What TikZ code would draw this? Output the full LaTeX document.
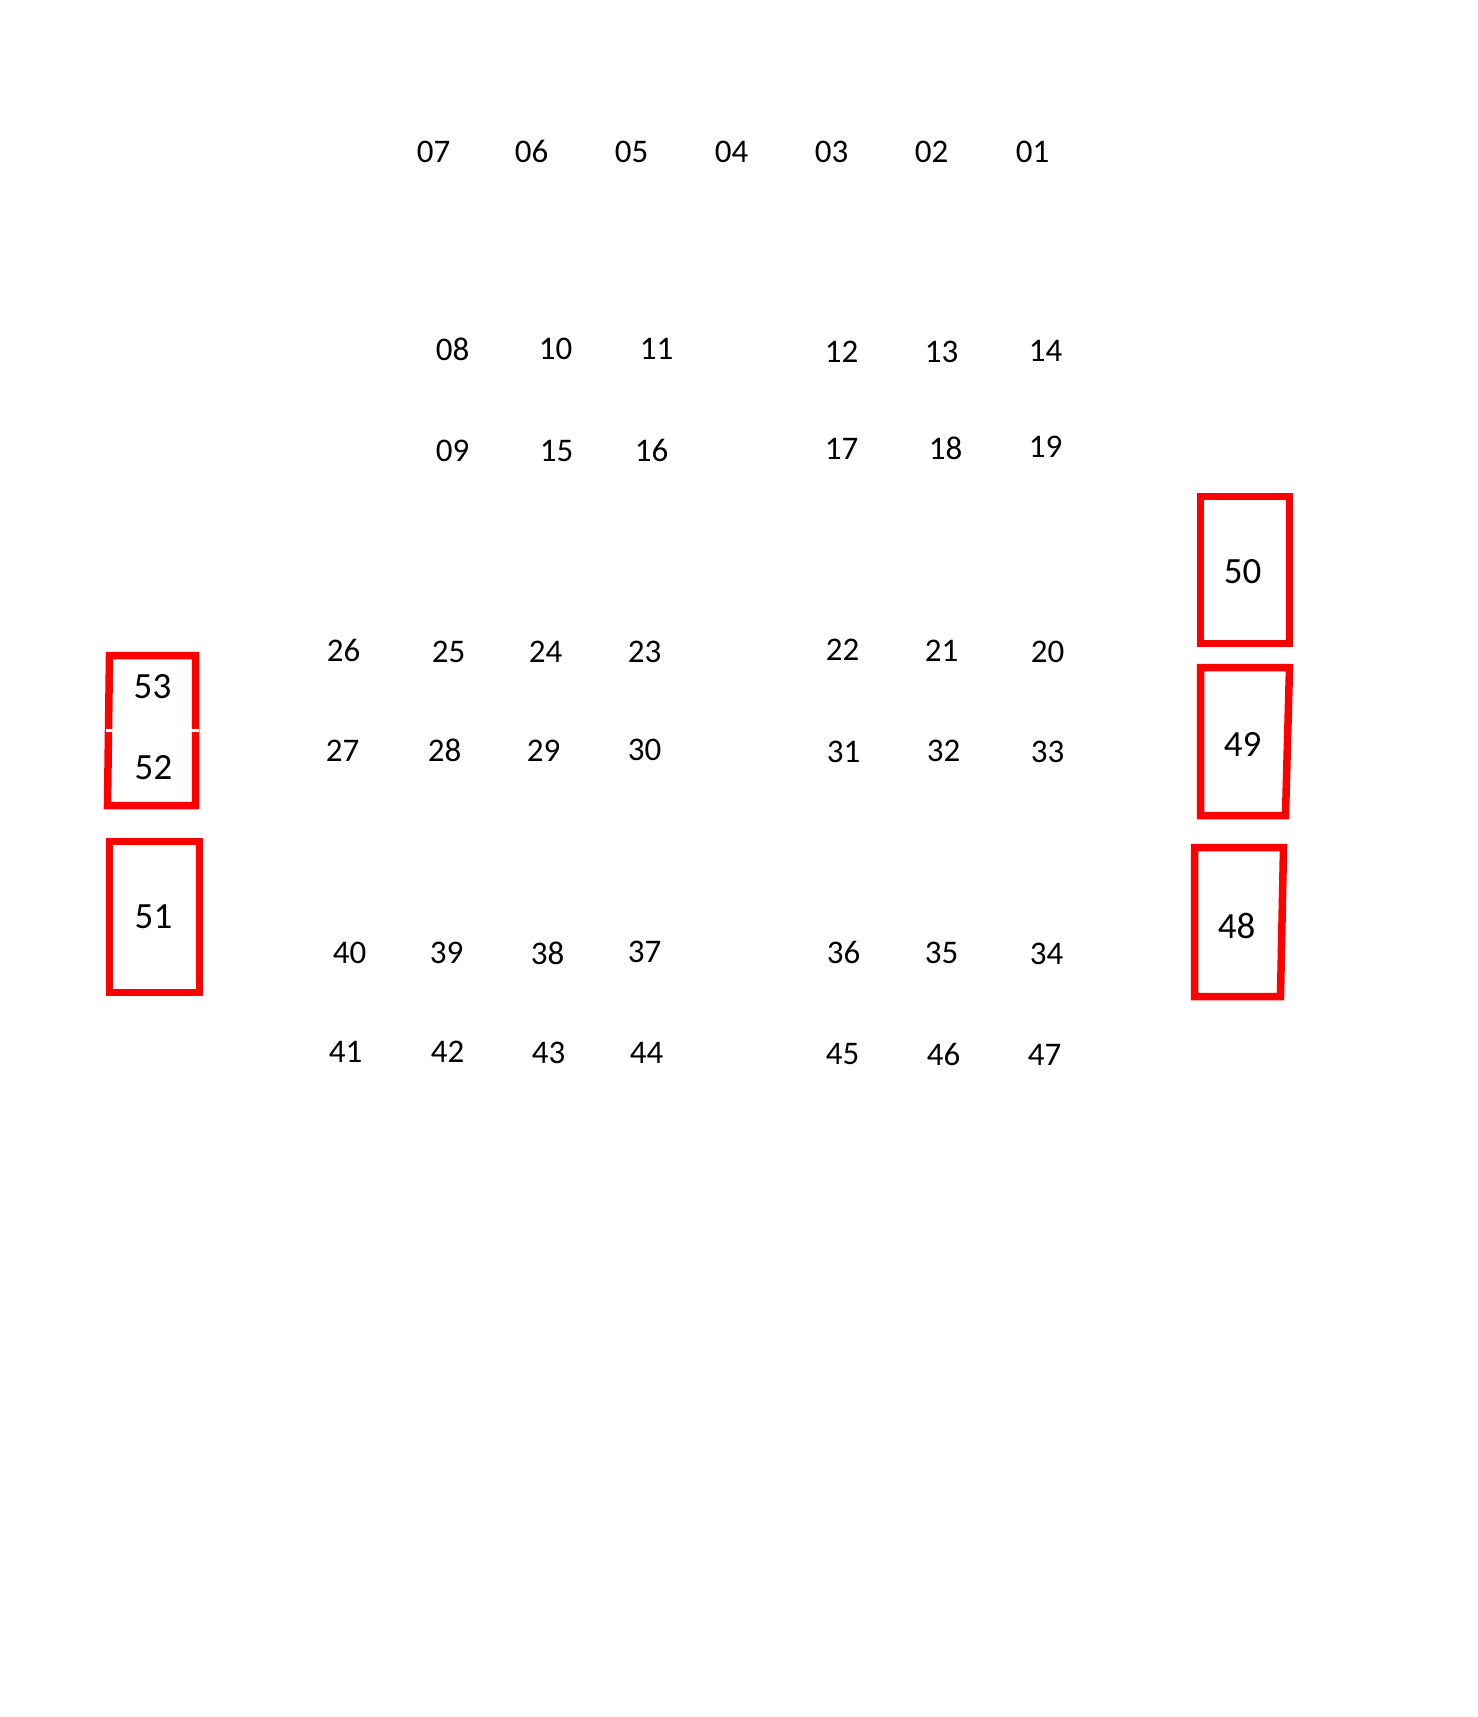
\documentclass[tikz,border=0pt]{standalone}
\usepackage{fontspec}
\setmainfont{Carlito}
\begin{document}
\begin{tikzpicture}[x=1pt,y=-1pt,
  num/.style={inner sep=0pt,font=\fontsize{33}{40}\selectfont},
  boxnum/.style={inner sep=0pt,font=\fontsize{37}{44}\selectfont},
  redbox/.style={draw=red,line width=7.5pt}]
\useasboundingbox[fill=white] (0,0) rectangle (1478,1717);
\begin{scope}[shift={(1.5,1.5)}]
% row 1
\node[num] (n07) at (432,150) {07};
\node[num] (n06) at (530,150) {06};
\node[num] (n05) at (630,150) {05};
\node[num] (n04) at (730,150) {04};
\node[num] (n03) at (830,150) {03};
\node[num] (n02) at (930,150) {02};
\node[num] (n01) at (1031,150) {01};
% row 2
\node[num] (n08) at (451,348) {08};
\node[num] (n10) at (554,347) {10};
\node[num] (n11) at (655,347) {11};
\node[num] (n12) at (840,350) {12};
\node[num] (n13) at (940,350) {13};
\node[num] (n14) at (1044,349) {14};
% row 3
\node[num] (n09) at (451,449) {09};
\node[num] (n15) at (555,449) {15};
\node[num] (n16) at (650,449) {16};
\node[num] (n17) at (840,447) {17};
\node[num] (n18) at (944,447) {18};
\node[num] (n19) at (1044,445) {19};
% row 4
\node[num] (n26) at (342,649) {26};
\node[num] (n25) at (447,650) {25};
\node[num] (n24) at (544,650) {24};
\node[num] (n23) at (643,650) {23};
\node[num] (n22) at (841,648) {22};
\node[num] (n21) at (940,649) {21};
\node[num] (n20) at (1046,650) {20};
% row 5
\node[num] (n27) at (341,749) {27};
\node[num] (n28) at (443,749) {28};
\node[num] (n29) at (542,749) {29};
\node[num] (n30) at (643,748) {30};
\node[num] (n31) at (842,750) {31};
\node[num] (n32) at (942,749) {32};
\node[num] (n33) at (1046,750) {33};
% row 6
\node[num] (n40) at (348,951) {40};
\node[num] (n39) at (445,951) {39};
\node[num] (n38) at (546,952) {38};
\node[num] (n37) at (643,950) {37};
\node[num] (n36) at (842,951) {36};
\node[num] (n35) at (940,951) {35};
\node[num] (n34) at (1045,952) {34};
% row 7
\node[num] (n41) at (344,1050) {41};
\node[num] (n42) at (446,1050) {42};
\node[num] (n43) at (547,1051) {43};
\node[num] (n44) at (645,1051) {44};
\node[num] (n45) at (841,1053) {45};
\node[num] (n46) at (942,1053) {46};
\node[num] (n47) at (1043,1053) {47};
% right boxes
\draw[redbox] (1199,495) rectangle (1288,642);
\node[boxnum] (n50) at (1241,570) {50};
\draw[redbox] (1199,666) -- (1288,666) -- (1284,814) -- (1199,814) -- cycle;
\node[boxnum] (n49) at (1241,743) {49};
\draw[redbox] (1193,846) -- (1282,846) -- (1279,995) -- (1193,995) -- cycle;
\node[boxnum] (n48) at (1235,924) {48};
% left boxes
\draw[redbox] (108,654) -- (194,654) -- (194,804) -- (106,804) -- cycle;
\draw[white,line width=3pt] (104,729) -- (197,729);
\node[boxnum] (n53) at (151,685) {53};
\node[boxnum] (n52) at (152,766) {52};
\draw[redbox] (108,840) rectangle (198,991);
\node[boxnum] (n51) at (152,915) {51};
\end{scope}
\end{tikzpicture}
\end{document}
